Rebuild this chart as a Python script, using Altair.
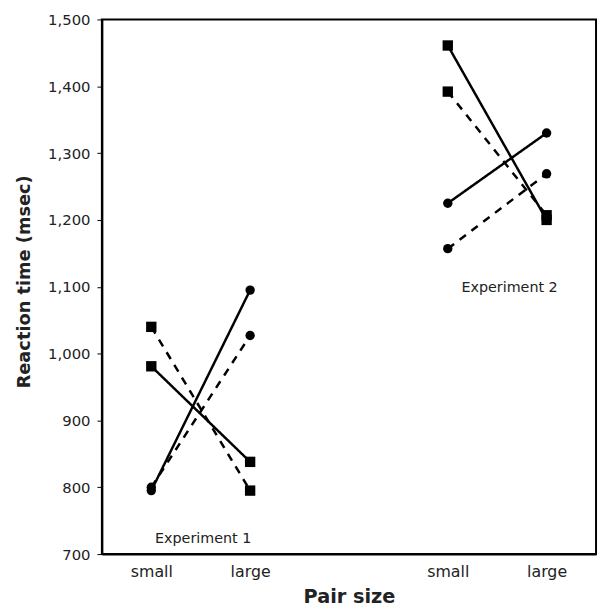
import altair as alt
import pandas as pd

# x positions of the four conditions and their tick labels
x_pos = [1, 3, 7, 9]
x_labels = ["small", "large", "small", "large"]

# Reaction times (msec), [small, large]
exp1_solid_square = [981, 838]
exp1_dashed_square = [1040, 795]
exp1_solid_circle = [795, 1095]
exp1_dashed_circle = [800, 1027]
exp2_solid_square = [1461, 1200]
exp2_dashed_square = [1392, 1207]
exp2_solid_circle = [1225, 1330]
exp2_dashed_circle = [1157, 1269]

series = [
    ("e1ss", 0, "solid", "square", exp1_solid_square),
    ("e1ds", 0, "dashed", "square", exp1_dashed_square),
    ("e1sc", 0, "solid", "circle", exp1_solid_circle),
    ("e1dc", 0, "dashed", "circle", exp1_dashed_circle),
    ("e2ss", 2, "solid", "square", exp2_solid_square),
    ("e2ds", 2, "dashed", "square", exp2_dashed_square),
    ("e2sc", 2, "solid", "circle", exp2_solid_circle),
    ("e2dc", 2, "dashed", "circle", exp2_dashed_circle),
]

rows = []
for sid, off, style, shape, vals in series:
    for i, v in enumerate(vals):
        rows.append({"id": sid, "style": style, "shape": shape,
                     "x": x_pos[off + i], "rt": v})
df = pd.DataFrame(rows)

ann_text = ["Experiment 1", "Experiment 2"]
ann_x = [2.05, 8.25]
ann_y = [722, 1098]
ann = pd.DataFrame({"t": ann_text, "x": ann_x, "y": ann_y})

font = "DejaVu Sans"
label_map = "{" + ",".join(f"'{p}':'{l}'" for p, l in zip(x_pos, x_labels)) + "}"

x_enc = alt.X("x:Q", scale=alt.Scale(domain=[0, 10], nice=False),
              axis=alt.Axis(values=x_pos, labelExpr=f"{label_map}[datum.value]",
                            title="Pair size", ticks=False, grid=False,
                            labelFontSize=16, labelPadding=10,
                            titleFontSize=19.5, titleFontWeight="bold",
                            titlePadding=8, domainColor="black", domainWidth=2,
                            labelColor="#222", titleColor="#222"))
y_enc = alt.Y("rt:Q", scale=alt.Scale(domain=[700, 1500], nice=False),
              axis=alt.Axis(values=list(range(700, 1501, 100)), format=",d",
                            title="Reaction time (msec)", grid=False,
                            tickSize=5, tickColor="black",
                            labelFontSize=15, labelPadding=7,
                            titleFontSize=18, titleFontWeight="bold",
                            titlePadding=14, titleY=265,
                            domainColor="black", domainWidth=2,
                            labelColor="#222", titleColor="#222"))

lines = alt.Chart(df).mark_line(color="black", strokeWidth=2.5).encode(
    x=x_enc, y=y_enc, detail="id:N",
    strokeDash=alt.StrokeDash("style:N",
                              scale=alt.Scale(domain=["solid", "dashed"],
                                              range=[[1, 0], [8, 7]]),
                              legend=None),
)
points = alt.Chart(df).mark_point(filled=True, color="black", opacity=1).encode(
    x="x:Q", y="rt:Q",
    shape=alt.Shape("shape:N",
                    scale=alt.Scale(domain=["square", "circle"],
                                    range=["square", "circle"]),
                    legend=None),
    size=alt.Size("shape:N", scale=alt.Scale(domain=["square", "circle"],
                                             range=[110, 90]), legend=None),
)
texts = alt.Chart(ann).mark_text(font=font, fontSize=14.5, color="#222").encode(
    x="x:Q", y="y:Q", text="t:N")

chart = alt.layer(lines, points, texts).properties(
    width=500, height=541,
    padding={"left": 95, "top": 8, "right": 2, "bottom": 52},
    autosize=alt.AutoSizeParams(type="none"),
).configure(
    font=font, background="white"
).configure_view(stroke="black", strokeWidth=2)

chart.save("out.html", embed_options={"renderer": "svg", "actions": False})
